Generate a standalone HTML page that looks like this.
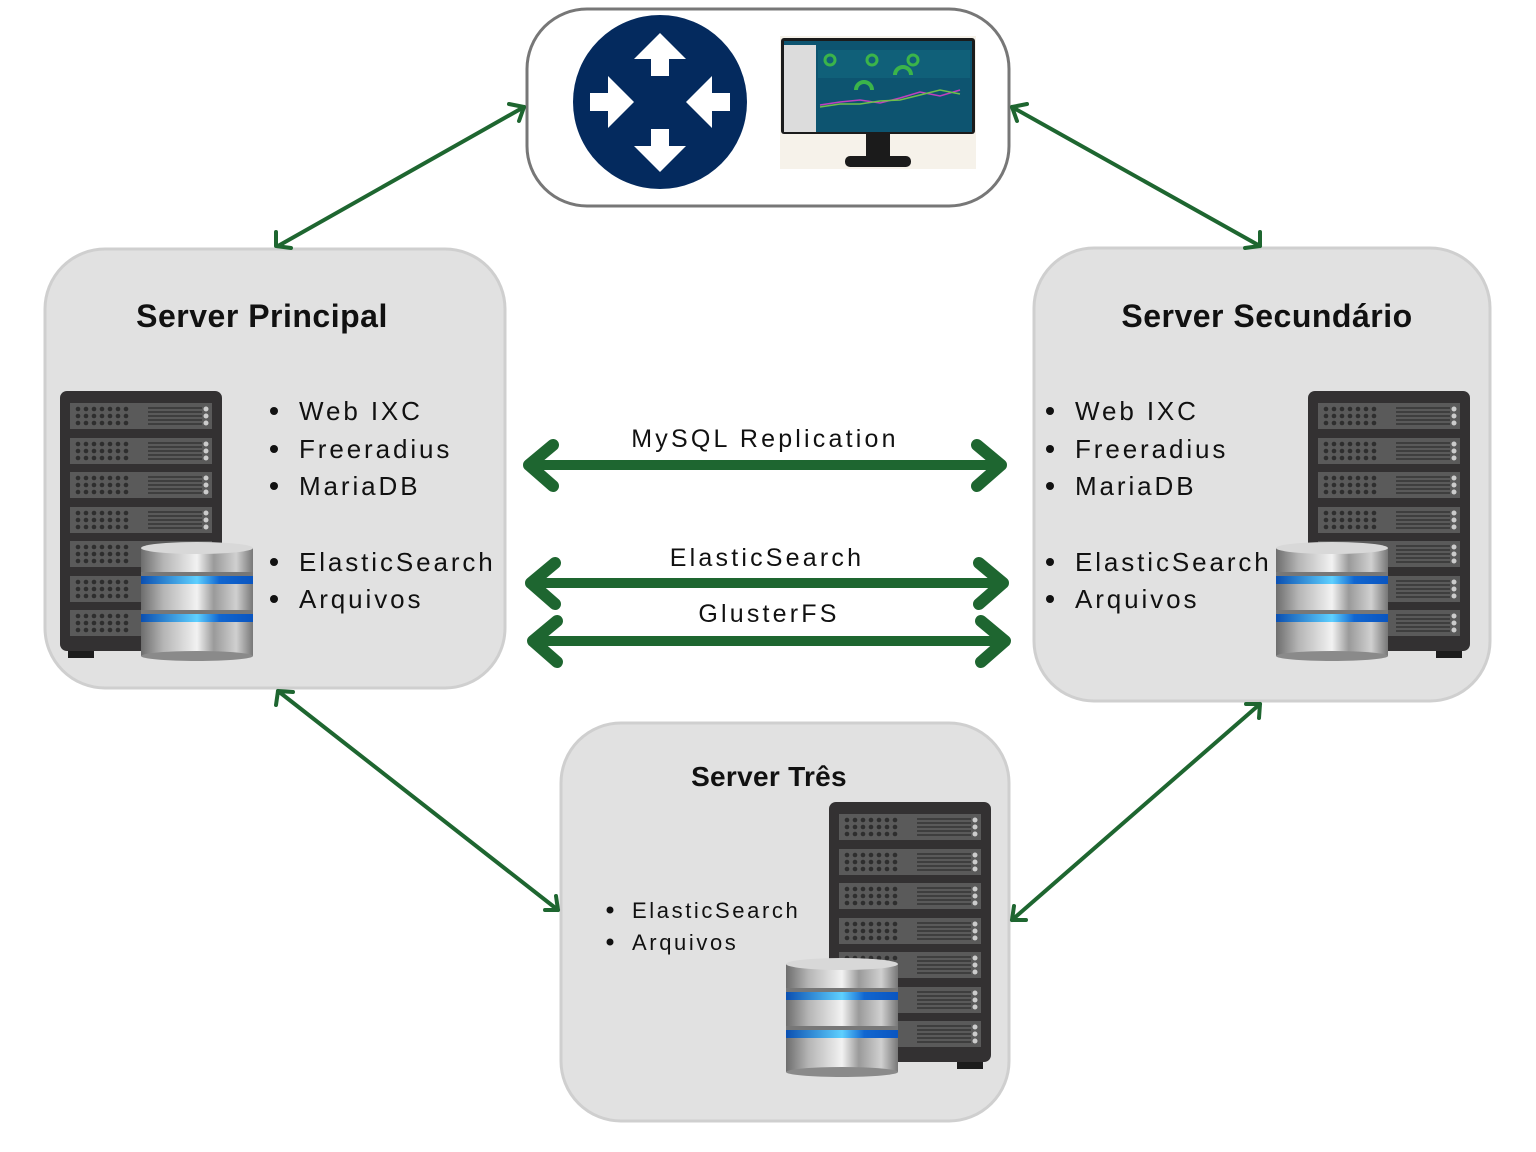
<!DOCTYPE html>
<html><head><meta charset="utf-8"><style>
html,body{margin:0;padding:0;background:#fff;}
svg{display:block;}
text{font-family:"Liberation Sans",sans-serif;}
.t{font-weight:bold;font-size:32px;letter-spacing:0.5px;fill:#111;}
.b{font-size:26px;letter-spacing:2.9px;fill:#111;}
.s{font-size:22px;letter-spacing:2.6px;fill:#111;}
.l{font-size:25px;letter-spacing:3.2px;fill:#111;}
</style></head><body>
<svg width="1536" height="1152" viewBox="0 0 1536 1152" xmlns="http://www.w3.org/2000/svg">
<defs>
<linearGradient id="cyl" x1="0" x2="1">
<stop offset="0" stop-color="#6d6d6d"/><stop offset="0.2" stop-color="#b5b5b5"/><stop offset="0.5" stop-color="#f2f2f2"/><stop offset="0.65" stop-color="#9a9a9a"/><stop offset="0.85" stop-color="#d0d0d0"/><stop offset="1" stop-color="#777"/>
</linearGradient>
<linearGradient id="blu" x1="0" x2="1">
<stop offset="0" stop-color="#0b4fb0"/><stop offset="0.5" stop-color="#5fd0ff"/><stop offset="0.7" stop-color="#1166d0"/><stop offset="1" stop-color="#0a55c0"/>
</linearGradient>
<g id="unit">
<rect x="0" y="0" width="142" height="26" fill="#5a5a5a"/>
<g fill="#2e2e2e">
<circle cx="8" cy="6" r="2.3"/><circle cx="16" cy="6" r="2.3"/><circle cx="24" cy="6" r="2.3"/><circle cx="32" cy="6" r="2.3"/><circle cx="40" cy="6" r="2.3"/><circle cx="48" cy="6" r="2.3"/><circle cx="56" cy="6" r="2.3"/>
<circle cx="8" cy="13" r="2.3"/><circle cx="16" cy="13" r="2.3"/><circle cx="24" cy="13" r="2.3"/><circle cx="32" cy="13" r="2.3"/><circle cx="40" cy="13" r="2.3"/><circle cx="48" cy="13" r="2.3"/><circle cx="56" cy="13" r="2.3"/>
<circle cx="8" cy="20" r="2.3"/><circle cx="16" cy="20" r="2.3"/><circle cx="24" cy="20" r="2.3"/><circle cx="32" cy="20" r="2.3"/><circle cx="40" cy="20" r="2.3"/><circle cx="48" cy="20" r="2.3"/><circle cx="56" cy="20" r="2.3"/>
</g>
<g stroke="#2e2e2e" stroke-width="1.3"><line x1="78" y1="5" x2="132" y2="5"/><line x1="78" y1="9" x2="132" y2="9"/><line x1="78" y1="13" x2="132" y2="13"/><line x1="78" y1="17" x2="132" y2="17"/><line x1="78" y1="21" x2="132" y2="21"/></g>
<g fill="#ccc"><circle cx="136" cy="6" r="2.5"/><circle cx="136" cy="13" r="2.5"/><circle cx="136" cy="20" r="2.5"/></g>
</g>
<g id="rack">
<rect x="0" y="0" width="162" height="260" rx="7" fill="#333132"/>
<rect x="8" y="260" width="26" height="7" fill="#1c1c1c"/>
<rect x="128" y="260" width="26" height="7" fill="#1c1c1c"/>
<use href="#unit" x="10" y="12"/><use href="#unit" x="10" y="47"/><use href="#unit" x="10" y="81"/><use href="#unit" x="10" y="116"/><use href="#unit" x="10" y="150"/><use href="#unit" x="10" y="185"/><use href="#unit" x="10" y="219"/>
</g>
<g id="db">
<rect x="0" y="78" width="112" height="36" fill="url(#cyl)"/><ellipse cx="56" cy="114" rx="56" ry="5" fill="#8a8a8a"/>
<rect x="0" y="72" width="112" height="8" fill="url(#blu)"/>
<rect x="0" y="68" width="112" height="4" fill="#777"/>
<rect x="0" y="40" width="112" height="28" fill="url(#cyl)"/>
<rect x="0" y="34" width="112" height="8" fill="url(#blu)"/>
<rect x="0" y="30" width="112" height="4" fill="#777"/>
<rect x="0" y="6" width="112" height="24" fill="url(#cyl)"/>
<ellipse cx="56" cy="6" rx="56" ry="6" fill="#d8d8d8"/>
</g>
</defs>

<rect x="527" y="9" width="482" height="197" rx="60" fill="#fff" stroke="#777" stroke-width="3"/>
<rect x="45" y="249" width="460" height="439" rx="60" fill="#e1e1e1" stroke="#cfcfcf" stroke-width="3"/>
<rect x="1034" y="248" width="456" height="453" rx="60" fill="#e1e1e1" stroke="#cfcfcf" stroke-width="3"/>
<rect x="561" y="723" width="448" height="398" rx="60" fill="#e1e1e1" stroke="#cfcfcf" stroke-width="3"/>

<circle cx="660" cy="102" r="87" fill="#042a5e"/>
<g fill="#fff">
<polygon points="660,33 686,59 669,59 669,76 651,76 651,59 634,59"/>
<polygon points="660,172 686,146 669,146 669,129 651,129 651,146 634,146"/>
<polygon points="634,102 608,76 608,93 590,93 590,111 608,111 608,128"/>
<polygon points="686,102 712,76 712,93 730,93 730,111 712,111 712,128"/>
</g>
<rect x="780" y="36" width="196" height="133" fill="#f6f2ea"/>
<rect x="781" y="38" width="194" height="96" rx="3" fill="#1b1b1b"/>
<rect x="784" y="41" width="188" height="91" fill="#0d5470"/>
<rect x="784" y="45" width="32" height="87" fill="#dcdcdc"/>
<rect x="818" y="50" width="152" height="28" fill="#106079"/>
<circle cx="830" cy="60" r="5" fill="none" stroke="#3bb44a" stroke-width="3"/>
<circle cx="872" cy="60" r="5" fill="none" stroke="#3bb44a" stroke-width="3"/>
<circle cx="913" cy="60" r="5" fill="none" stroke="#3bb44a" stroke-width="3"/>
<path d="M856 90 a8 8 0 0 1 16 0" fill="none" stroke="#3bb44a" stroke-width="4"/>
<path d="M895 75 a8 8 0 0 1 16 0" fill="none" stroke="#3bb44a" stroke-width="4"/>
<polyline points="820,105 840,102 860,100 880,103 900,98 920,92 940,96 960,90" fill="none" stroke="#c03fc0" stroke-width="1.5"/>
<polyline points="820,107 840,104 860,104 880,101 900,100 920,95 940,90 960,94" fill="none" stroke="#6ec04a" stroke-width="1.5"/>
<rect x="866" y="134" width="24" height="22" fill="#1b1b1b"/>
<rect x="845" y="156" width="66" height="11" rx="5" fill="#1b1b1b"/>

<text class="t" x="262" y="327" text-anchor="middle">Server Principal</text>
<text class="t" x="1267" y="327" text-anchor="middle">Server Secundário</text>
<text class="t" x="769" y="786" text-anchor="middle" style="font-size:28px;letter-spacing:0.3px">Server Três</text>

<use href="#rack" x="60" y="391"/>
<use href="#db" x="141" y="542"/>
<g fill="#111">
<circle cx="274" cy="411" r="4"/><circle cx="274" cy="449" r="4"/><circle cx="274" cy="486" r="4"/><circle cx="274" cy="562" r="4"/><circle cx="274" cy="599" r="4"/>
<circle cx="1050" cy="411" r="4"/><circle cx="1050" cy="449" r="4"/><circle cx="1050" cy="486" r="4"/><circle cx="1050" cy="562" r="4"/><circle cx="1050" cy="599" r="4"/>
<circle cx="610" cy="910" r="3.5"/><circle cx="610" cy="942" r="3.5"/>
</g>
<g class="b">
<text x="299" y="420">Web IXC</text>
<text x="299" y="458">Freeradius</text>
<text x="299" y="495">MariaDB</text>
<text x="299" y="571">ElasticSearch</text>
<text x="299" y="608">Arquivos</text>
</g>
<use href="#rack" x="1308" y="391"/>
<use href="#db" x="1276" y="542"/>
<g class="b">
<text x="1075" y="420">Web IXC</text>
<text x="1075" y="458">Freeradius</text>
<text x="1075" y="495">MariaDB</text>
<text x="1075" y="571">ElasticSearch</text>
<text x="1075" y="608">Arquivos</text>
</g>
<use href="#rack" x="829" y="802"/>
<use href="#db" x="786" y="958"/>
<g class="s">
<text x="632" y="918">ElasticSearch</text>
<text x="632" y="950">Arquivos</text>
</g>

<g stroke="#1e6630" stroke-linecap="round" stroke-linejoin="round" fill="none">
<g stroke-width="10">
<line x1="532" y1="465" x2="998" y2="465"/>
<line x1="534" y1="583" x2="1000" y2="583"/>
<line x1="536" y1="641" x2="1002" y2="641"/>
</g>
<g stroke-width="12">
<polyline points="553,445 529,465 553,486"/><polyline points="977,445 1001,465 977,486"/>
<polyline points="555,563 531,583 555,604"/><polyline points="979,563 1003,583 979,604"/>
<polyline points="557,621 533,641 557,662"/><polyline points="981,621 1005,641 981,662"/>
</g>
<g stroke-width="4">
<line x1="278" y1="246" x2="524" y2="107"/>
<polyline points="276,232 276,246 291,248"/><polyline points="509,104 524,107 519,121"/>
<line x1="1012" y1="107" x2="1260" y2="246"/>
<polyline points="1017,121 1012,107 1027,104"/><polyline points="1245,248 1260,246 1260,232"/>
<line x1="278" y1="691" x2="558" y2="910"/>
<polyline points="276,705 278,691 293,692"/><polyline points="545,910 558,910 556,896"/>
<line x1="1012" y1="920" x2="1260" y2="704"/>
<polyline points="1014,906 1012,920 1026,920"/><polyline points="1246,704 1260,704 1259,718"/>
</g>
</g>
<g class="l">
<text x="765" y="447" text-anchor="middle">MySQL Replication</text>
<text x="767" y="566" text-anchor="middle">ElasticSearch</text>
<text x="769" y="622" text-anchor="middle">GlusterFS</text>
</g>
</svg>
</body></html>
